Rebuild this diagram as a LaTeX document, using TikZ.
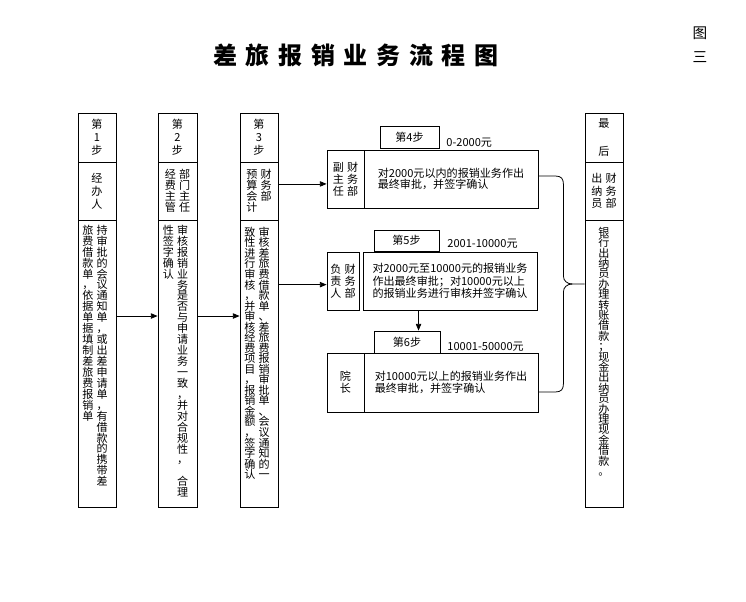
\documentclass[tikz,border=0pt]{standalone}
\usepackage{fontspec}
\setmainfont{Noto Sans CJK SC}
\usetikzlibrary{arrows.meta,positioning,calc}
\newcommand{\px}{0.75pt}
\makeatletter
% one column of upright characters, read top to bottom
\newcommand{\vcol}[2][8.2pt]{\vtop{\baselineskip=#1\lineskiplimit=-\maxdimen
  \@tfor\vc@ch:=#2\do{\hbox to 1.05em{\hss\vc@ch\hss}}}}
% two columns, the right one is read first
\newcommand{\vpair}[3][8.2pt]{\vcol[#1]{#2}\hspace{2pt}\vcol[#1]{#3}}
\newcommand{\spread}[1]{\@tfor\vc@ch:=#1\do{\vc@ch\hspace{6.5pt}}\unskip}
\makeatother

\begin{document}
\begin{tikzpicture}[x=0.75pt, y=-0.75pt, line width=.6pt,
  font=\fontsize{8.3pt}{8.6pt}\selectfont, >={Triangle[length=5pt,width=4pt]},
  col/.style={draw, inner sep=0pt, minimum width=38*\px},
  hd/.style={col, minimum height=49*\px},
  role/.style={col, minimum height=58*\px},
  body/.style={col, minimum height=287*\px},
  txt/.style={inner sep=0pt, anchor=north},
  dep/.style={draw, inner sep=0pt, minimum height=58*\px},
  big/.style={draw, inner sep=0pt, align=left, minimum width=174*\px, minimum height=58*\px},
  stepbox/.style={draw, inner sep=0pt, minimum height=22*\px},
  rnglabel/.style={anchor=west, inner sep=0pt}]
\useasboundingbox (0,0) rectangle (746,602);
\node (title) at (356,55) {\fontsize{18pt}{18pt}\selectfont\bfseries\spread{差旅报销业务流程图}};
\node (fig) at (700,45) {\fontsize{11pt}{11pt}\selectfont\vcol[18pt]{图三}};
% step 1
\node[hd]   (c1head) at (97,137.5) {\vcol[9.75pt]{第1步}};
\node[role] (c1role) at (97,191)   {\vcol[9.75pt]{经办人}};
\node[body] (c1body) at (97,363.5) {};
\node[txt]  (c1txt)  at ($(c1body.north)+(-2,5)$) {\vpair{旅费借款单，依据单据填制差旅费报销单}{持审批的会议通知单，或出差申请单，有借款的携带差}};
% step 2
\node[hd, minimum width=39*\px]   (c2head) at (177.5,137.5) {\vcol[9.75pt]{第2步}};
\node[role, minimum width=39*\px] (c2role) at (177.5,191)   {\vpair{经费主管}{部门主任}};
\node[body, minimum width=39*\px] (c2body) at (177.5,363.5) {};
\node[txt]  (c2txt)  at ($(c2body.north)+(-2,5)$) {\vpair{性签字确认}{审核报销业务是否与申请业务一致，并对合规性，{}合理}};
% step 3
\node[hd]   (c3head) at (259,137.5) {\vcol[9.75pt]{第3步}};
\node[role] (c3role) at (259,191)   {\vpair{预算会计}{财务部}};
\node[body] (c3body) at (259,363.5) {};
\node[txt]  (c3txt)  at ($(c3body.north)+(-2,7)$) {\vpair[7.9pt]{致性进行审核，并审核经费项目，报销金额，签字确认}{审核差旅费借款单、差旅费报销审批单、会议通知的一}};
% steps 4 to 6
\node[dep, minimum width=37*\px] (dep4) at (345.5,179) {\vpair[9pt]{副主任}{财务部}};
\node[big] (box4) at (451,179) {对2000元以内的报销业务作出\\最终审批，并签字确认};
\node[stepbox, minimum width=59*\px] (step4) at (409.5,137.5) {第4步};
\node[rnglabel] (rng4) at (446,143) {0-2000元};
\node[dep, minimum width=32*\px] (dep5) at (343,281) {\vpair[9pt]{负责人}{财务部}};
\node[big, font=\fontsize{8.3pt}{9.6pt}\selectfont] (box5) at (450,281) {对2000元至10000元的报销业务\\作出最终审批；对10000元以上\\的报销业务进行审核并签字确认};
\node[stepbox, minimum width=65*\px, minimum height=21*\px] (step5) at (406.5,240.5) {第5步};
\node[rnglabel] (rng5) at (447,244) {2001-10000元};
\node[dep, minimum width=37*\px, minimum height=59*\px] (dep6) at (345.5,382.5) {\vcol[9pt]{院长}};
\node[big, minimum height=59*\px] (box6) at (451,382.5) {对10000元以上的报销业务作出\\最终审批，并签字确认};
\node[stepbox, minimum width=66*\px] (step6) at (407,342) {第6步};
\node[rnglabel] (rng6) at (447,347) {10001-50000元};
% last step
\node[hd]   (c4head) at (604,137.5) {\vcol[21pt]{最后}};
\node[role] (c4role) at (604,191)   {\vpair[9.4pt]{出纳员}{财务部}};
\node[body] (c4body) at (604,363.5) {};
\node[txt]  (c4txt)  at ($(c4body.north)+(0,7)$) {\vcol[7.8pt]{银行出纳员办理转账借款；现金出纳员办理现金借款。}};
% connectors
\draw[->] ($(c1body.north east)!.335!(c1body.south east)$) coordinate (a1) -- (a1 -| c2body.west);
\draw[->] ($(c2body.north east)!.335!(c2body.south east)$) coordinate (a2) -- (a2 -| c3body.west);
\draw[->] ($(c3role.north east)!.38!(c3role.south east)$) coordinate (a3) -- (a3 -| dep4.west);
\draw[->] ($(c3body.north east)!.226!(c3body.south east)$) coordinate (a4) -- (a4 -| dep5.west);
\draw[->] ($(box5.south west)!.32!(box5.south east)$) coordinate (a5) -- (a5 |- step6.north);
% brace
\coordinate (btop) at ($(box4.east)+(0,-3)$);
\coordinate (bbot) at ($(box6.east)+(0,9.5)$);
\coordinate (bmid) at ($(btop)!.5!(bbot)$);
\draw (btop) -- ++(17,0) .. controls +(6,0) and +(0,-5) .. ++(8,8) -- ($(bmid)+(25,-8)$)
  .. controls +(0,5) and +(-5,0) .. ($(bmid)+(34,0)$) -- (bmid -| c4body.west);
\draw (bbot) -- ++(17,0) .. controls +(6,0) and +(0,5) .. ++(8,-8) -- ($(bmid)+(25,8)$)
  .. controls +(0,-5) and +(-5,0) .. ($(bmid)+(34,0)$);
\end{tikzpicture}
\end{document}
